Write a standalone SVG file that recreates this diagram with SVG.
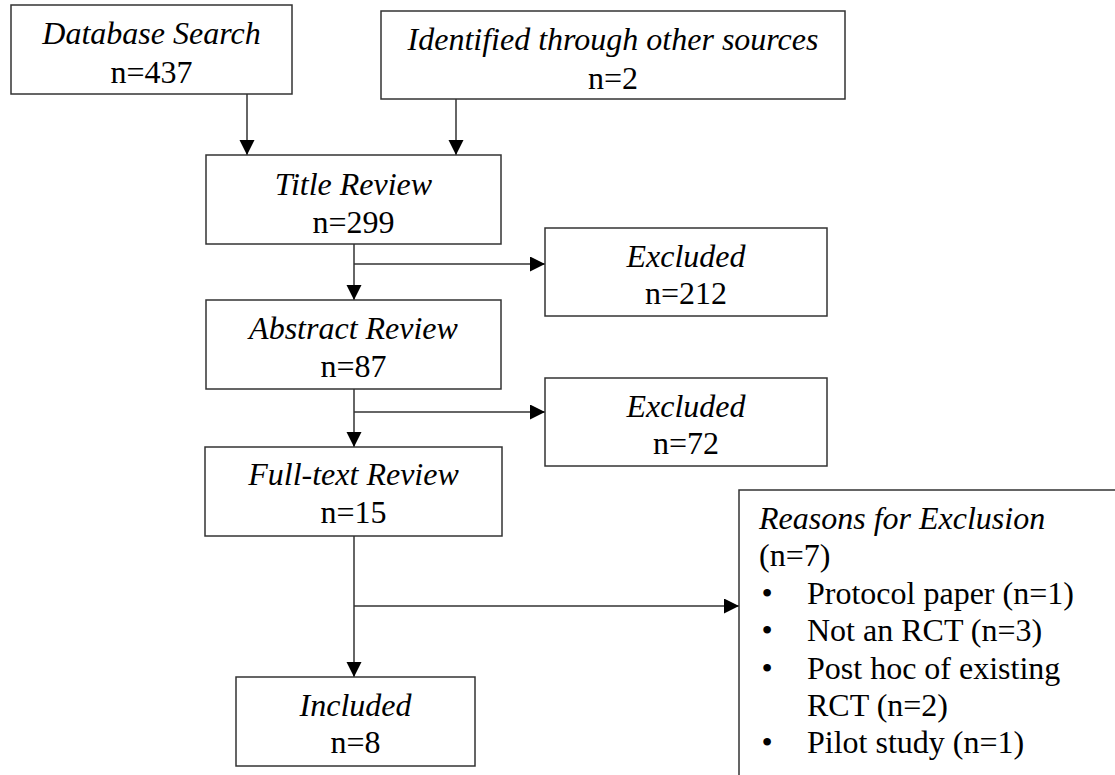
<svg xmlns="http://www.w3.org/2000/svg" width="1115" height="775" viewBox="0 0 1115 775">
  <style>
    .box { fill: #ffffff; stroke: #333333; stroke-width: 1.5; }
    .t { font-family: "Liberation Serif", "Times New Roman", serif; font-size: 32px; fill: #000000; }
    .it { font-style: italic; }
    .c { text-anchor: middle; }
    .conn { fill: none; stroke: #333333; stroke-width: 1.5; }
  </style>
  <defs>
    <marker id="arrow" markerUnits="userSpaceOnUse" markerWidth="16" markerHeight="16" viewBox="0 0 16 16" refX="15" refY="7.5" orient="auto">
      <path d="M0,0 L15,7.5 L0,15 Z" fill="#000000"/>
    </marker>
  </defs>
  <rect width="1115" height="775" fill="#ffffff"/>

  <g id="connectors">
    <path class="conn" d="M247,94 V155" marker-end="url(#arrow)"/>
    <path class="conn" d="M456,99 V155" marker-end="url(#arrow)"/>
    <path class="conn" d="M354,244 V300" marker-end="url(#arrow)"/>
    <path class="conn" d="M354,264 H545" marker-end="url(#arrow)"/>
    <path class="conn" d="M354,389 V447" marker-end="url(#arrow)"/>
    <path class="conn" d="M354,412 H545" marker-end="url(#arrow)"/>
    <path class="conn" d="M354,536 V677" marker-end="url(#arrow)"/>
    <path class="conn" d="M354,606 H739" marker-end="url(#arrow)"/>
  </g>

  <g id="database-search">
    <rect class="box" x="11" y="5" width="281" height="89"/>
    <text class="t it c" x="151.5" y="44">Database Search</text>
    <text class="t c" x="151.5" y="83">n=437</text>
  </g>

  <g id="other-sources">
    <rect class="box" x="381" y="11" width="464" height="88"/>
    <text class="t it c" x="613" y="50">Identified through other sources</text>
    <text class="t c" x="613" y="89">n=2</text>
  </g>

  <g id="title-review">
    <rect class="box" x="206" y="155" width="295" height="89"/>
    <text class="t it c" x="353.5" y="195">Title Review</text>
    <text class="t c" x="353.5" y="233">n=299</text>
  </g>

  <g id="excluded-1">
    <rect class="box" x="545" y="228" width="282" height="88"/>
    <text class="t it c" x="686" y="267">Excluded</text>
    <text class="t c" x="686" y="304">n=212</text>
  </g>

  <g id="abstract-review">
    <rect class="box" x="206" y="300" width="295" height="89"/>
    <text class="t it c" x="353.5" y="339">Abstract Review</text>
    <text class="t c" x="353.5" y="377">n=87</text>
  </g>

  <g id="excluded-2">
    <rect class="box" x="545" y="378" width="282" height="88"/>
    <text class="t it c" x="686" y="417">Excluded</text>
    <text class="t c" x="686" y="454">n=72</text>
  </g>

  <g id="fulltext-review">
    <rect class="box" x="205" y="447" width="297" height="89"/>
    <text class="t it c" x="353.5" y="485">Full-text Review</text>
    <text class="t c" x="353.5" y="523">n=15</text>
  </g>

  <g id="reasons">
    <rect class="box" x="739" y="490" width="420" height="320"/>
    <text class="t it" x="759" y="529">Reasons for Exclusion</text>
    <text class="t" x="759" y="566">(n=7)</text>
    <text class="t c" x="767" y="604">•</text>
    <text class="t" x="807" y="604">Protocol paper (n=1)</text>
    <text class="t c" x="767" y="641">•</text>
    <text class="t" x="807" y="641">Not an RCT (n=3)</text>
    <text class="t c" x="767" y="679">•</text>
    <text class="t" x="807" y="679">Post hoc of existing</text>
    <text class="t" x="807" y="716">RCT (n=2)</text>
    <text class="t c" x="767" y="753">•</text>
    <text class="t" x="807" y="753">Pilot study (n=1)</text>
  </g>

  <g id="included">
    <rect class="box" x="236" y="677" width="239" height="89"/>
    <text class="t it c" x="355.5" y="716">Included</text>
    <text class="t c" x="355.5" y="753">n=8</text>
  </g>
</svg>
